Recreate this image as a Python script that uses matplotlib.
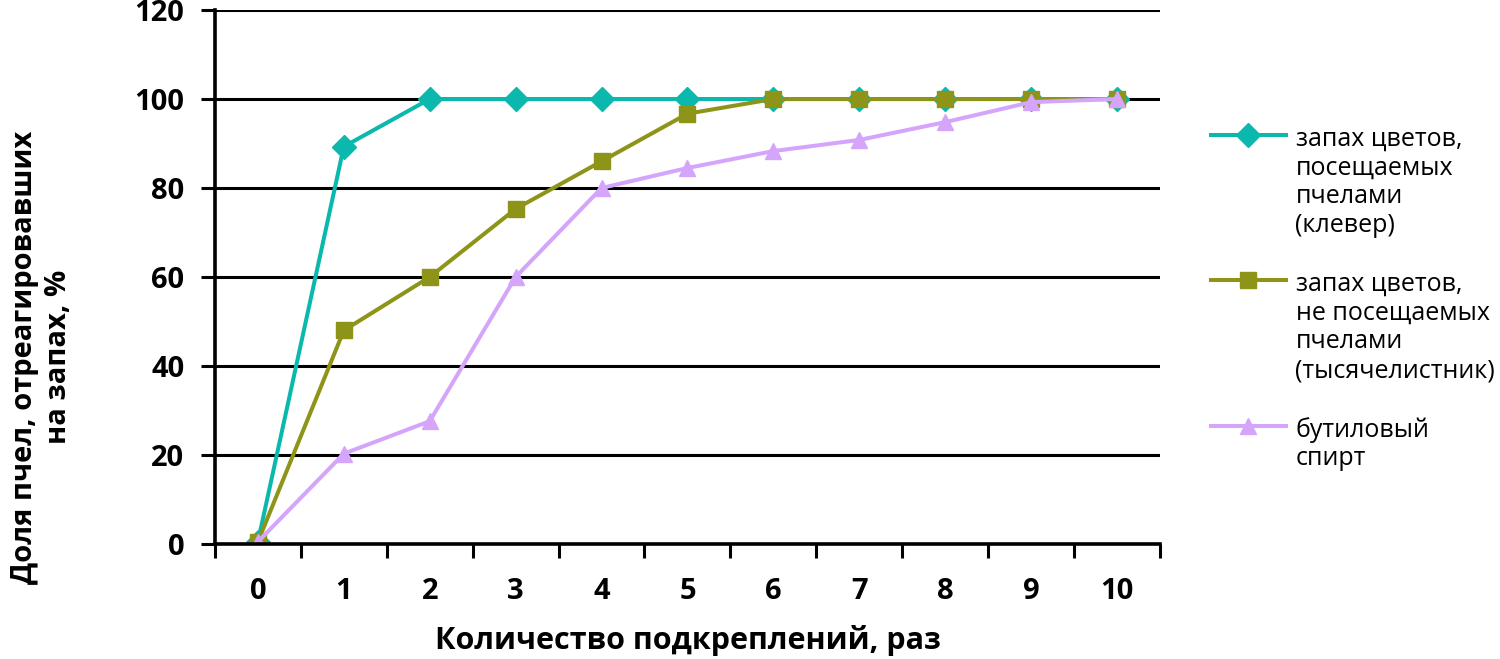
import numpy as np
import matplotlib
matplotlib.use("Agg")
import matplotlib.pyplot as plt

plt.rcParams['font.family'] = ['Open Sans', 'DejaVu Sans']

# количество подкреплений
reinforcements = [0, 1, 2, 3, 4, 5, 6, 7, 8, 9, 10]

# доля пчел, отреагировавших на запах, %
clover = [0.5, 89.3, 100, 100, 100, 100, 100, 100, 100, 100, 100]
yarrow = [0.5, 48.0, 60.0, 75.3, 86.0, 96.7, 100, 100, 100, 100, 100]
butanol = [0.5, 20.3, 27.6, 60.0, 80.0, 84.5, 88.3, 90.8, 94.8, 99.3, 100]

labels = ["запах цветов,\nпосещаемых\nпчелами\n(клевер)",
          "запах цветов,\nне посещаемых\nпчелами\n(тысячелистник)",
          "бутиловый\nспирт"]

yticks = [0, 20, 40, 60, 80, 100, 120]

c_teal = "#0bb8ad"
c_olive = "#8d9418"
c_lav = "#d4a5fb"

fig = plt.figure(figsize=(15, 6.59), dpi=100)
ax = fig.add_axes([0.1433, 0.1745, 0.63, 0.8103])

ax.plot(reinforcements, clover, color=c_teal, lw=2.9, marker="D", ms=12,
        label=labels[0], zorder=3)
ax.plot(reinforcements, yarrow, color=c_olive, lw=2.9, marker="s", ms=11,
        label=labels[1], zorder=4)
ax.plot(reinforcements, butanol, color=c_lav, lw=2.9, marker="^", ms=12,
        label=labels[2], zorder=5)

ax.set_xlim(-0.5, 10.5)
ax.set_ylim(0, 120)
ax.set_yticks(yticks)
ax.set_xticks(reinforcements)
ax.set_xticks(np.arange(-0.5, 11, 1), minor=True)
ax.tick_params(axis="x", which="major", length=0, pad=24)
ax.tick_params(axis="x", which="minor", length=10, width=2.2, direction="out")
ax.tick_params(axis="y", length=10, width=2.2, direction="out", pad=12)
for t in ax.get_xticklabels() + ax.get_yticklabels():
    t.set_fontsize(21)
    t.set_fontweight("bold")

ax.grid(axis="y", color="black", lw=2.2, zorder=1)
ax.set_axisbelow(True)
for s in ["top", "right"]:
    ax.spines[s].set_visible(False)
for s in ["left", "bottom"]:
    ax.spines[s].set_linewidth(2.6)
    ax.spines[s].set_zorder(6)

ax.set_xlabel("Количество подкреплений, раз", fontsize=22, fontweight="bold")
ax.xaxis.set_label_coords(0.5, -0.152)
ax.set_ylabel("Доля пчел, отреагировавших\nна запах, %", fontsize=21,
              fontweight="bold", linespacing=1.25)
ax.yaxis.set_label_coords(-0.15, 0.35)

leg = fig.legend(loc="upper left", bbox_to_anchor=(0.807, 0.808), frameon=False,
                 fontsize=18, handlelength=3.0, handletextpad=0.4,
                 labelspacing=1.35, borderpad=0, borderaxespad=0)
for t in leg.get_texts():
    t.set_linespacing(1.2)
for col in leg._legend_handle_box.get_children():
    for item in col.get_children():
        item.align = "top"

fig.savefig("out.png", dpi=100)
